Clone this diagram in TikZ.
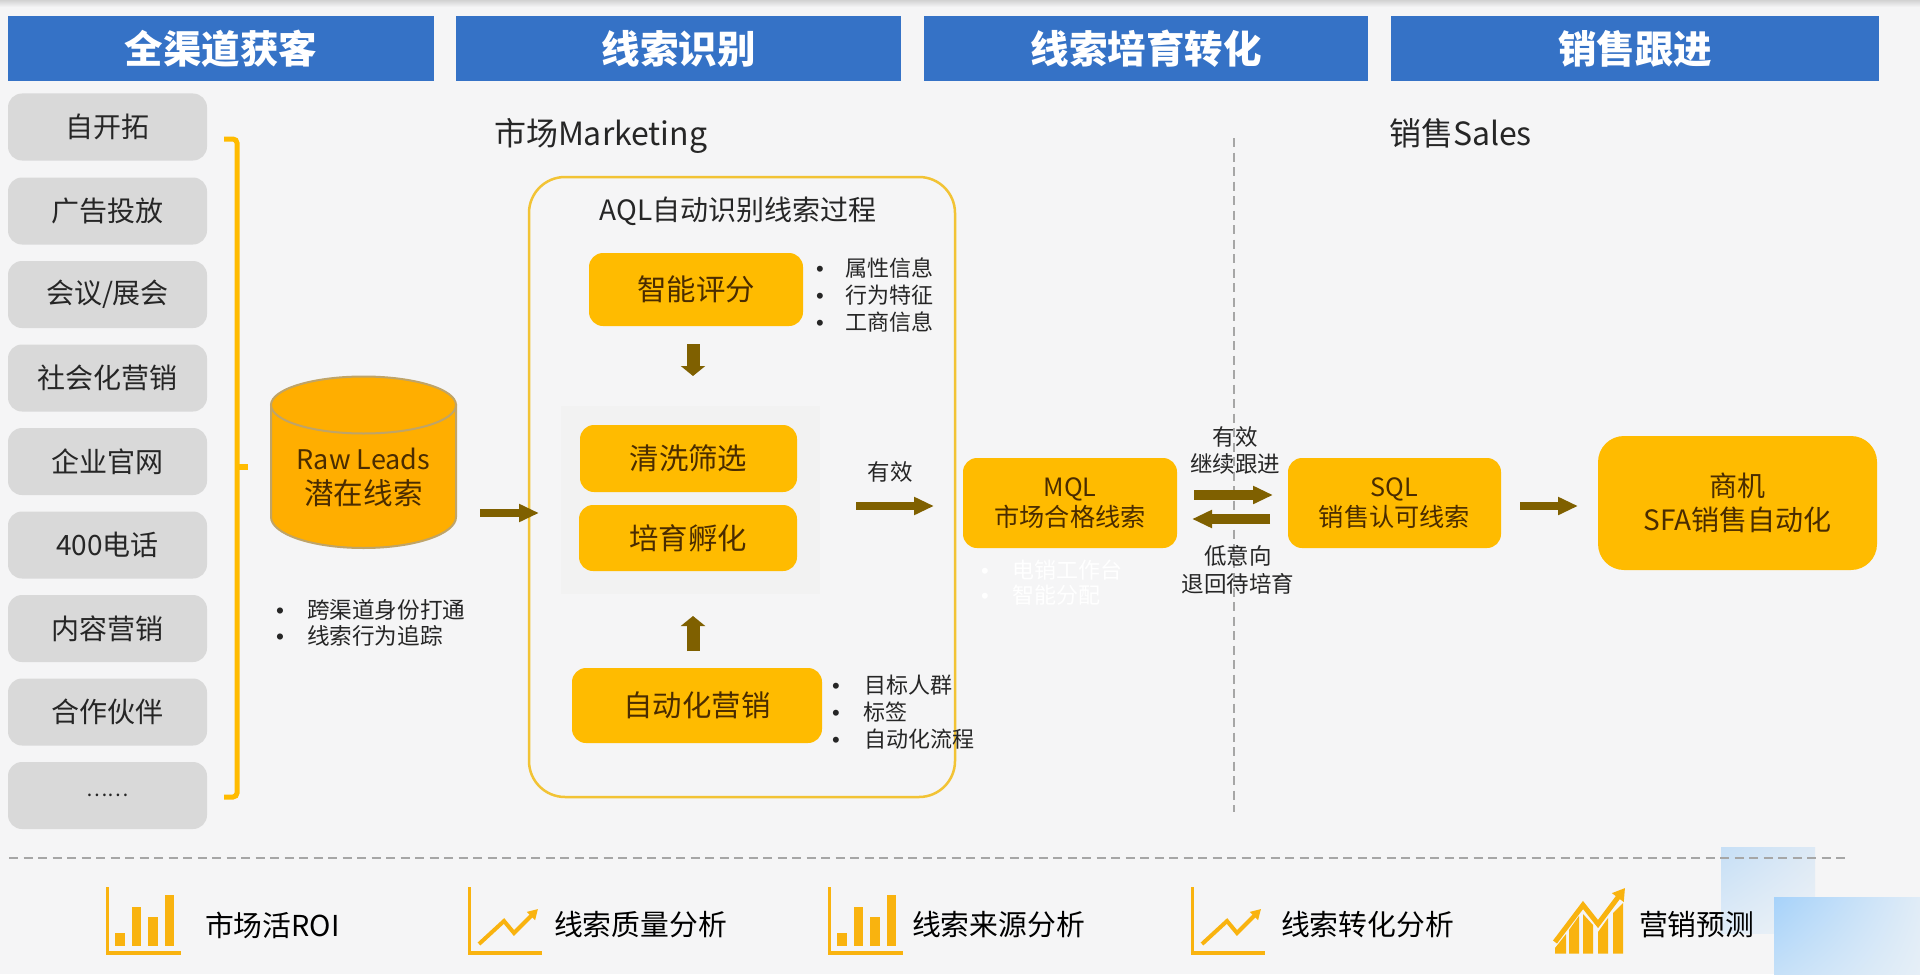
\documentclass[tikz,border=0pt]{standalone}
\usepackage{fontspec}
\setmainfont{Noto Sans CJK SC}
\newfontfamily\bulf{Liberation Sans}
\usetikzlibrary{arrows.meta,shadings}
\definecolor{bgc}{HTML}{F5F5F6}
\definecolor{hdr}{HTML}{3572C6}
\definecolor{graybox}{HTML}{D9D9D9}
\definecolor{amber}{HTML}{FFBB00}
\definecolor{cyl}{HTML}{FFAE00}
\definecolor{cyledge}{HTML}{BFA468}
\definecolor{frameY}{HTML}{F2C335}
\definecolor{arrowc}{HTML}{7F6000}
\definecolor{txt}{HTML}{262626}
\definecolor{txtO}{HTML}{4A2C00}
\definecolor{dashc}{HTML}{A6A6A6}
\definecolor{iconc}{HTML}{F9B30F}
\definecolor{sqa}{HTML}{C6DFF6}
\definecolor{sqb}{HTML}{DDE9F5}
\definecolor{sqc}{HTML}{E0ECF7}
\definecolor{sqd}{HTML}{EEF2F6}
\definecolor{sqe}{HTML}{A6D2FA}
\definecolor{sqf}{HTML}{E0ECF7}
\definecolor{sqg}{HTML}{C5E0F8}
\definecolor{sqh}{HTML}{E6EFF7}
\tikzset{
  fs/.style 2 args={font=\fontsize{#1}{#2}\selectfont},
  sz/.style 2 args={minimum width=#1*0.5pt,minimum height=#2*0.5pt},
  base/.style={inner sep=0pt,outer sep=0pt,align=center},
  lowered/.style={execute at begin node={\vspace*{1.5pt}}},
  header/.style={base,lowered,rectangle,fill=hdr,text=white,fs={19.25}{23}},
  chanbox/.style={base,lowered,rectangle,rounded corners=7pt,fill=graybox,text=txt,fs={14}{17}},
  stepbox/.style={base,lowered,rectangle,rounded corners=7pt,fill=amber,text=txtO,fs={14.7}{17}},
  leadbox/.style={base,lowered,rectangle,rounded corners=7pt,fill=amber,text=txtO,fs={12.6}{15}},
  label/.style={base,text=txt,fs={11.25}{13.75}},
  listing/.style={base,anchor=west,align=left,text=txt,fs={11}{13.5}},
  ghost/.style={base,anchor=west,align=left,text=white,fs={11}{12.5}},
  blockarrow/.style={draw=arrowc,line width=4pt,-{Triangle[length=10pt,width=8.5pt,fill=arrowc]}},
  stubarrow/.style={draw=arrowc,line width=6.5pt,-{Triangle[length=5pt,width=12pt,fill=arrowc]}},
  divider/.style={draw=dashc,line width=1pt,dash pattern=on 4.5pt off 2.75pt},
  axis/.style={draw=iconc,line width=1.5pt},
  baseaxis/.style={draw=iconc,line width=2.2pt},
  iconbar/.style={fill=iconc},
  iconline/.style={draw=iconc,line width=2pt,-{Triangle[length=5pt,width=5.5pt,fill=iconc]}},
  bottomlabel/.style={base,anchor=west,text=black,fs={14.4}{17}},
}
\newcommand{\bl}[1]{\makebox[#1][l]{\bulf •}}
\newcommand{\baricon}[1]{%
  \begin{scope}[shift={(#1,0)}]
    \draw[axis] (107,887) -- (107,953);
    \draw[baseaxis] (106,953) -- (181,953);
    \fill[iconbar] (115,933) rectangle (125,946);
    \fill[iconbar] (132,907) rectangle (141,946);
    \fill[iconbar] (148,917) rectangle (158,946);
    \fill[iconbar] (165,895) rectangle (174,946);
  \end{scope}}
\newcommand{\lineicon}[1]{%
  \begin{scope}[shift={(#1,0)}]
    \draw[axis] (469,887) -- (469,953);
    \draw[baseaxis] (468,953) -- (542,953);
    \draw[iconline] (479,944) -- (504,921) -- (514,933) -- (538,909);
  \end{scope}}
\begin{document}
\begin{tikzpicture}[x=0.5pt,y=-0.5pt]
\useasboundingbox (0,0) rectangle (1920,974);
\fill[bgc] (0,0) rectangle (1920,974);
\shade[top color=gray!35,bottom color=bgc] (0,0) rectangle (1920,7);
% decorative squares
\shade[upper left=sqa,upper right=sqb,lower left=sqc,lower right=sqd] (1721,847) rectangle (1815,933);
\shade[upper left=sqe,upper right=sqf,lower left=sqg,lower right=sqh] (1774,897) rectangle (1920,974);
% headers
\node[header,sz={426}{65}] (h1) at (221,48.5) {\bfseries 全渠道获客};
\node[header,sz={445}{65}] (h2) at (678.5,48.5) {\bfseries 线索识别};
\node[header,sz={444}{65}] (h3) at (1146,48.5) {\bfseries 线索培育转化};
\node[header,sz={488}{65}] (h4) at (1635,48.5) {\bfseries 销售跟进};
% channels
\node[chanbox,sz={199}{67}] (c1) at (107.5,127) {自开拓};
\node[chanbox,sz={199}{67}] (c2) at (107.5,211) {广告投放};
\node[chanbox,sz={199}{67}] (c3) at (107.5,294.5) {会议/展会};
\node[chanbox,sz={199}{67}] (c4) at (107.5,378) {社会化营销};
\node[chanbox,sz={199}{67}] (c5) at (107.5,461.5) {企业官网};
\node[chanbox,sz={199}{67}] (c6) at (107.5,545) {400电话};
\node[chanbox,sz={199}{67}] (c7) at (107.5,628.5) {内容营销};
\node[chanbox,sz={199}{67}] (c8) at (107.5,712) {合作伙伴};
\node[chanbox,sz={199}{67},fs={10}{12}] (c9) at (107.5,795.5) {……};
% bracket
\draw[draw=amber,line width=2.5pt,rounded corners=2pt] (224,139) -- (237,139) -- (237,797) -- (224,797);
\draw[draw=amber,line width=3.25pt] (237,467) -- (248,467);
% cylinder
\draw[fill=cyl,draw=cyledge,line width=1pt]
  (271,405) -- (271,517) arc[start angle=180,end angle=360,x radius=92.5,y radius=-31] -- (456,405) -- cycle;
\draw[fill=cyl,draw=cyledge,line width=1pt] (363.5,405) ellipse[x radius=92.5,y radius=28.5];
\node[base,sz={185}{142},text=txtO,fs={13.5}{17.5}] (raw) at (363.5,477) {Raw Leads\\{\fontsize{14.8}{17.5}\selectfont 潜在线索}};
\node[listing,fs={11.3}{13}] (rawlist) at (276,623) {\bl{15.5pt}跨渠道身份打通\\\bl{15.5pt}线索行为追踪};
% section titles
\node[base,anchor=base west,text=txt,fs={16}{19}] (mk) at (494,146) {市场Marketing};
\node[base,anchor=base west,text=txt,fs={16}{19}] (sl) at (1389,146) {销售Sales};
% AQL frame
\node[base,rectangle,rounded corners=18pt,draw=frameY,line width=1.25pt,sz={426}{620}] (aql) at (742,487) {};
\node[base,text=txt,fs={14}{17}] (aqlt) at (738,211.5) {AQL自动识别线索过程};
\node[base,rectangle,fill=black!5,sz={259}{188}] (panel) at (690.5,500) {};
\node[stepbox,sz={214}{73}] (score) at (696,289.5) {智能评分};
\node[stepbox,sz={217}{67}] (clean) at (688.5,458.5) {清洗筛选};
\node[stepbox,sz={218}{66}] (incub) at (688,538) {培育孵化};
\node[stepbox,sz={250}{75}] (auto) at (697,705.5) {自动化营销};
\node[listing] (scorelist) at (816,295) {\bl{14.5pt}属性信息\\\bl{14.5pt}行为特征\\\bl{14.5pt}工商信息};
\node[listing] (autolist) at (832,712) {\bl{16.25pt}目标人群\\\bl{15.5pt}标签\\\bl{16.25pt}自动化流程};
\draw[stubarrow,shorten <=9pt,shorten >=15pt] ([xshift=-1.5pt]score.south) -- ([xshift=1.25pt]panel.north);
\draw[stubarrow,shorten <=8.5pt,shorten >=11pt] ([xshift=-2pt]auto.north) -- ([xshift=1.25pt]panel.south);
% leads
\node[leadbox,sz={214}{90}] (mql) at (1070,503) {MQL\\市场合格线索};
\node[leadbox,sz={213}{90}] (sql) at (1394.5,503) {SQL\\销售认可线索};
\node[leadbox,rounded corners=13pt,sz={279}{134},fs={14}{17}] (opp) at (1737.5,503) {商机\\SFA销售自动化};
\node[ghost] (ghostlist) at (981,582.5) {\bl{15.5pt}电销工作台\\\bl{15.5pt}智能分配};
% vertical divider
\coordinate (vtop) at (1234,138);
\coordinate (vbot) at (1234,812);
\draw[divider] (vtop) -- (vbot);
% horizontal divider
\coordinate (hleft) at (9,858);
\coordinate (hright) at (1846,858);
\draw[divider] (hleft) -- (hright);
% labels
\node[label] (ok1) at (890,471.5) {有效};
\node[label] (ok2) at (1235,450.5) {有效\\继续跟进};
\node[label] (low) at (1238,570) {低意向\\退回待培育};
% connectors
\draw[blockarrow,shorten <=12pt,shorten >=-5pt] ([yshift=-18pt]raw.east) -- ([yshift=-13pt]aql.west);
\draw[blockarrow,shorten <=18pt,shorten >=14.5pt] ([yshift=-3pt]panel.east) -- ([yshift=-1.5pt]mql.west);
\draw[blockarrow,line width=5pt,shorten <=8.5pt,shorten >=7.5pt] ([yshift=4pt]mql.east) -- ([yshift=4pt]sql.west);
\draw[blockarrow,line width=5pt,shorten <=9pt,shorten >=7.5pt] ([yshift=-8pt]sql.west) -- ([yshift=-8pt]mql.east);
\draw[blockarrow,shorten <=9.5pt,shorten >=10pt] ([yshift=-1.5pt]sql.east) -- ([yshift=-1.5pt]opp.west);
% bottom icons
\baricon{0}
\lineicon{0}
\baricon{722}
\lineicon{723}
\draw[draw=iconc,line width=2.5pt,-{Triangle[length=6pt,width=7pt,fill=iconc]}] (1555,942) -- (1583,905) -- (1598,924) -- (1625,888);
\fill[iconbar] (1555,953.5) -- (1555,948) -- (1566,934) -- (1566,953.5) -- cycle;
\fill[iconbar] (1569,953.5) -- (1569,930) -- (1579,916) -- (1579,953.5) -- cycle;
\fill[iconbar] (1583,953.5) -- (1583,914) -- (1593,925) -- (1593,953.5) -- cycle;
\fill[iconbar] (1598,953.5) -- (1598,932) -- (1608,918) -- (1608,953.5) -- cycle;
\fill[iconbar] (1613,953.5) -- (1613,913) -- (1623,903) -- (1623,953.5) -- cycle;
\node[bottomlabel] (b1) at (205,925) {市场活ROI};
\node[bottomlabel] (b2) at (554,925) {线索质量分析};
\node[bottomlabel] (b3) at (912,925) {线索来源分析};
\node[bottomlabel] (b4) at (1281,925) {线索转化分析};
\node[bottomlabel] (b5) at (1639,925) {营销预测};
\end{tikzpicture}
\end{document}
